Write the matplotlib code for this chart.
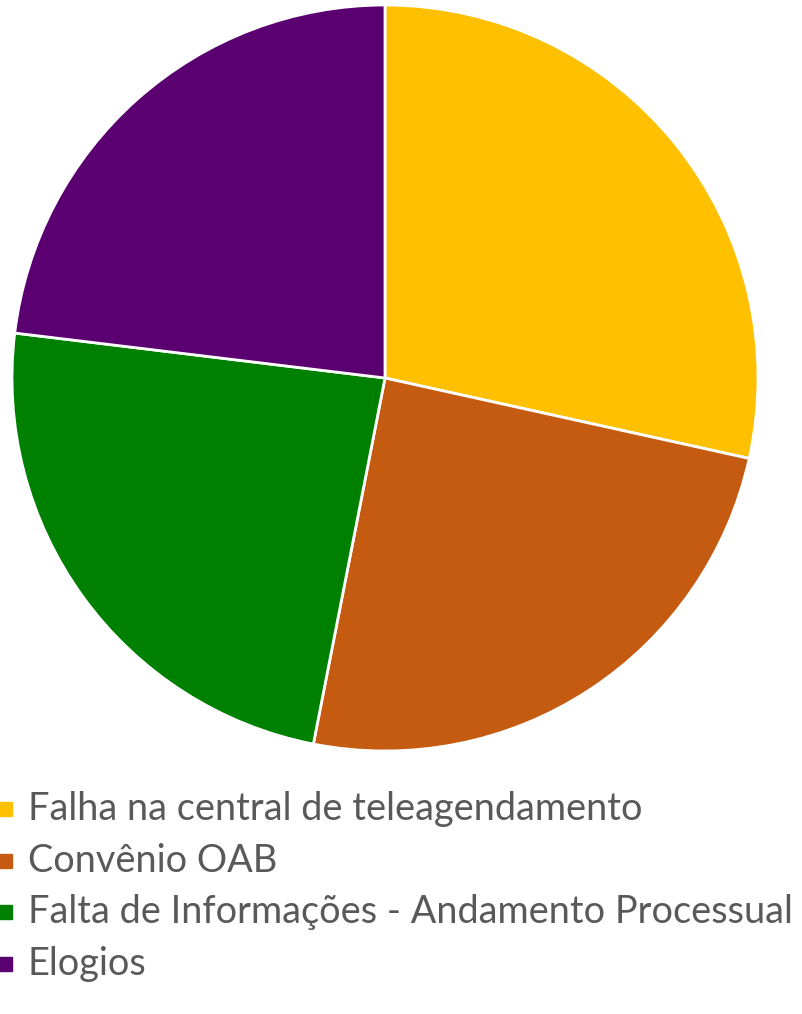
import matplotlib
matplotlib.use("Agg")
import matplotlib.pyplot as plt
from matplotlib.lines import Line2D

categories = [
    "Falha na central de teleagendamento",
    "Convênio OAB",
    "Falta de Informações - Andamento Processual",
    "Elogios",
]
values = [37, 32, 31, 30]
colors = ["#FFC000", "#C55A11", "#008000", "#5A0070"]

W, H = 802, 1014
fig = plt.figure(figsize=(W / 100, H / 100), dpi=100)

cx, cy, r = 385, 378, 373
ax = fig.add_axes([(cx - r) / W, 1 - (cy + r) / H, 2 * r / W, 2 * r / H])
wedges, _ = ax.pie(values, colors=colors, startangle=90, counterclock=False,
                   wedgeprops=dict(edgecolor="white", linewidth=2))
ax.set_aspect("equal")
ax.set_xlim(-1, 1)
ax.set_ylim(-1, 1)

# legend rows below the pie, in pixel positions converted to figure fraction
base0, pitch = 820, 51.7
for i, (label, color) in enumerate(zip(categories, colors)):
    base = base0 + i * pitch
    fig.add_artist(Line2D([5 / W], [1 - (base - 11) / H], marker="s",
                          linestyle="none", markersize=10.5,
                          markerfacecolor=color, markeredgecolor=color,
                          transform=fig.transFigure))
    fig.text(28 / W, 1 - base / H, label, family="Lato", size=27.3,
             color="#595959", ha="left", va="baseline")

fig.savefig("out.png", dpi=100)
